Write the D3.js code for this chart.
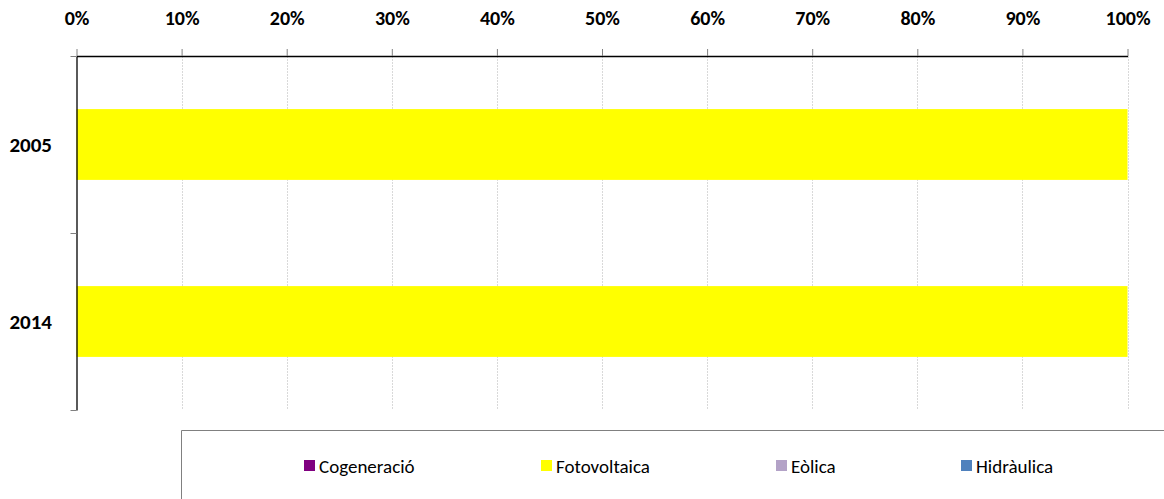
<!DOCTYPE html>
<html>
<head>
<meta charset="utf-8">
<script src="https://cdn.jsdelivr.net/npm/d3@7"></script>
<style>
  body { margin: 0; background: #fff; }
  svg { display: block; font-family: Carlito, Calibri, Lato, "Open Sans", sans-serif; }
</style>
</head>
<body>
<svg width="1164" height="499"></svg>
<script>
const YEARS = ['2005', '2014'];
const SERIES = ['Cogeneració', 'Fotovoltaica', 'Eòlica', 'Hidràulica'];
const COLORS = ['#800080', '#FFFF00', '#B3A2C7', '#4F81BD'];
const COGENERACIO = [0, 0];
const FOTOVOLTAICA = [100, 100];
const EOLICA = [0, 0];
const HIDRAULICA = [0, 0];
const X_TICKS = [0, 0.1, 0.2, 0.3, 0.4, 0.5, 0.6, 0.7, 0.8, 0.9, 1];

const MARGINS = { top: 56, left: 76.5, right: 36.5, bottom: 89 };
const WIDTH = 1164, HEIGHT = 499;

const rows = YEARS.map((year, i) => ({
  year,
  'Cogeneració': COGENERACIO[i],
  'Fotovoltaica': FOTOVOLTAICA[i],
  'Eòlica': EOLICA[i],
  'Hidràulica': HIDRAULICA[i],
}));

const stacked = d3.stack().keys(SERIES).offset(d3.stackOffsetExpand)(rows);

const xScale = d3.scaleLinear()
  .domain([0, 1])
  .range([MARGINS.left, WIDTH - MARGINS.right]);

const yScale = d3.scaleBand()
  .domain(YEARS)
  .range([MARGINS.top, HEIGHT - MARGINS.bottom])
  .paddingInner(0.6)
  .paddingOuter(0.3);

const color = d3.scaleOrdinal().domain(SERIES).range(COLORS);

const svg = d3.select('svg');

// gridlines
svg.append('g')
  .selectAll('line')
  .data(X_TICKS.slice(1))
  .enter()
  .append('line')
  .attr('x1', d => Math.round(xScale(d)) + 0.5)
  .attr('x2', d => Math.round(xScale(d)) + 0.5)
  .attr('y1', MARGINS.top)
  .attr('y2', HEIGHT - MARGINS.bottom)
  .attr('stroke', '#d9d9d9')
  .attr('stroke-dasharray', '2,1');

// bars
svg.append('g')
  .selectAll('g')
  .data(stacked)
  .enter()
  .append('g')
  .attr('fill', d => color(d.key))
  .selectAll('rect')
  .data(d => d)
  .enter()
  .append('rect')
  .attr('x', d => xScale(d[0]))
  .attr('width', d => xScale(d[1]) - xScale(d[0]))
  .attr('y', d => yScale(d.data.year))
  .attr('height', yScale.bandwidth());

// top axis
const xAxis = svg.append('g')
  .attr('transform', `translate(0, ${MARGINS.top})`)
  .call(d3.axisTop(xScale).tickValues(X_TICKS).tickFormat(d3.format('.0%')).tickSize(7).tickSizeOuter(0).tickPadding(24));
xAxis.select('.domain').attr('stroke', '#000').attr('stroke-width', 1.3);
xAxis.selectAll('.tick line').attr('stroke', '#808080');
xAxis.selectAll('text')
  .attr('font-size', 20)
  .attr('font-weight', 'bold')
  .attr('fill', '#000')
  .style('font-family', 'Carlito, Calibri, Lato, "Open Sans", sans-serif');

// left axis (category boundaries)
const yEdges = d3.scaleLinear().domain([0, YEARS.length]).range([MARGINS.top, HEIGHT - MARGINS.bottom]);
const yAxis = svg.append('g')
  .attr('transform', `translate(${MARGINS.left}, 0)`)
  .call(d3.axisLeft(yEdges).tickValues(d3.range(YEARS.length + 1)).tickFormat('').tickSize(6).tickSizeOuter(0));
yAxis.select('.domain').attr('stroke', '#000').attr('stroke-width', 1.3);
yAxis.selectAll('.tick line').attr('stroke', '#808080');

svg.append('g')
  .selectAll('text')
  .data(YEARS)
  .enter()
  .append('text')
  .attr('x', 52)
  .attr('y', d => yScale(d) + yScale.bandwidth() / 2)
  .attr('dy', '0.35em')
  .attr('text-anchor', 'end')
  .attr('font-size', 21)
  .attr('font-weight', 'bold')
  .text(d => d);

// legend
svg.append('path')
  .attr('d', `M181.5,${HEIGHT} V430.5 H${WIDTH}`)
  .attr('fill', 'none')
  .attr('stroke', '#808080')
  .attr('stroke-width', 1);

const LEGEND_X = [304, 541, 776, 961];
const legendItems = svg.append('g')
  .selectAll('g')
  .data(SERIES)
  .enter()
  .append('g')
  .attr('transform', (d, i) => `translate(${LEGEND_X[i]}, 466)`);

legendItems.append('rect')
  .attr('x', 0)
  .attr('y', -6)
  .attr('width', 11)
  .attr('height', 11)
  .attr('fill', d => color(d));

legendItems.append('text')
  .attr('x', 15)
  .attr('dy', '0.35em')
  .attr('font-size', 19)
  .attr('fill', '#000')
  .text(d => d);
</script>
</body>
</html>
